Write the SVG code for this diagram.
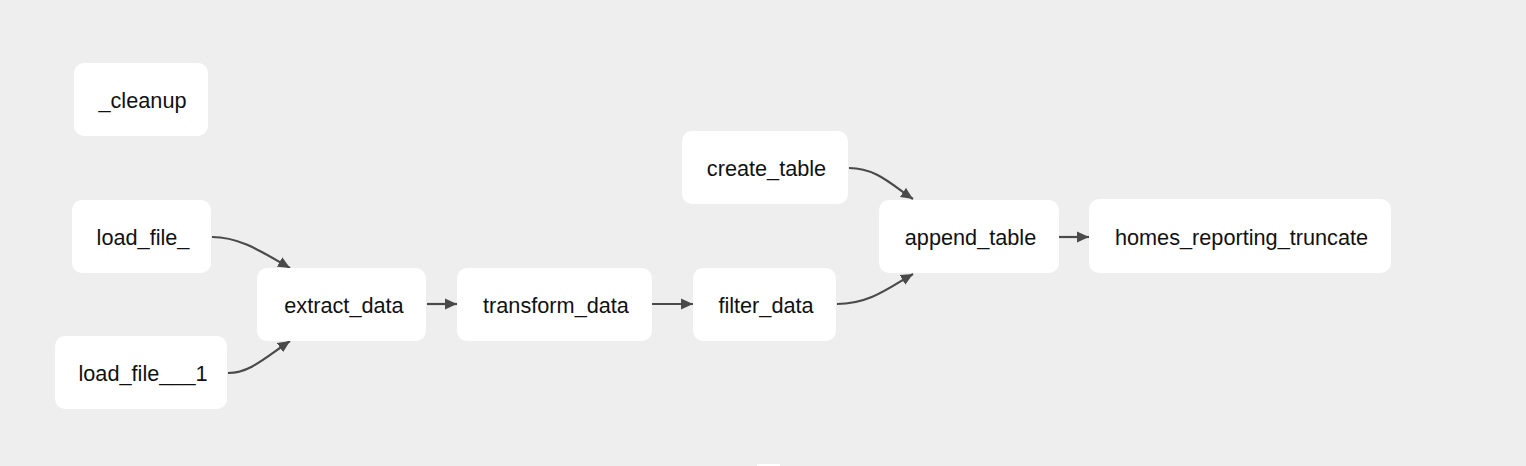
<svg xmlns="http://www.w3.org/2000/svg" width="1526" height="466" viewBox="0 0 1526 466">
<style>
.node rect{fill:#ffffff;stroke:none}
.node text{font-family:"Liberation Sans",Arial,Helvetica,sans-serif;font-size:21.7px;fill:#111111;text-anchor:middle}
.edge{fill:none;stroke:#4a4a4a;stroke-width:2.2;marker-end:url(#arr)}
</style>
<defs>
<marker id="arr" markerUnits="userSpaceOnUse" markerWidth="12" markerHeight="12" viewBox="0 0 12 12" refX="12" refY="6" orient="auto">
<path d="M0,0.5 L12,6 L0,11.5 z" fill="#4a4a4a"/>
</marker>
</defs>
<rect x="0" y="0" width="1526" height="466" fill="#eeeeee"/>
<g id="connectors">
<path class="edge" d="M212,237 C240,237 262,252 290,268"/>
<path class="edge" d="M228,373 C250,373 266,357 290,341"/>
<path class="edge" d="M427,304 L457,304"/>
<path class="edge" d="M652,304 L693,304"/>
<path class="edge" d="M849,168 C877,168 893,186 913,199"/>
<path class="edge" d="M837,304 C870,304 890,287 913,274"/>
<path class="edge" d="M1059,237 L1089,237"/>
</g>
<g id="cleanup" class="node"><rect x="74" y="63" width="134" height="73" rx="10"/><text x="142.5" y="108">_cleanup</text></g>
<g id="load_file_" class="node"><rect x="72" y="200" width="139" height="73" rx="10"/><text x="143" y="245">load_file_</text></g>
<g id="load_file___1" class="node"><rect x="55" y="336" width="172" height="73" rx="10"/><text x="143" y="381">load_file___1</text></g>
<g id="extract_data" class="node"><rect x="257" y="268" width="169" height="73" rx="10"/><text x="344" y="313">extract_data</text></g>
<g id="transform_data" class="node"><rect x="457" y="268" width="195" height="73" rx="10"/><text x="556" y="313">transform_data</text></g>
<g id="create_table" class="node"><rect x="682" y="131" width="166" height="73" rx="10"/><text x="766.5" y="176">create_table</text></g>
<g id="filter_data" class="node"><rect x="693" y="268" width="143" height="73" rx="10"/><text x="766" y="313">filter_data</text></g>
<g id="append_table" class="node"><rect x="879" y="200" width="180" height="73" rx="10"/><text x="970.5" y="245">append_table</text></g>
<g id="homes_reporting_truncate" class="node"><rect x="1089" y="199" width="302" height="74" rx="10"/><text x="1241.5" y="245">homes_reporting_truncate</text></g>
<rect x="757" y="464" width="23" height="2" fill="#ffffff"/>
</svg>
